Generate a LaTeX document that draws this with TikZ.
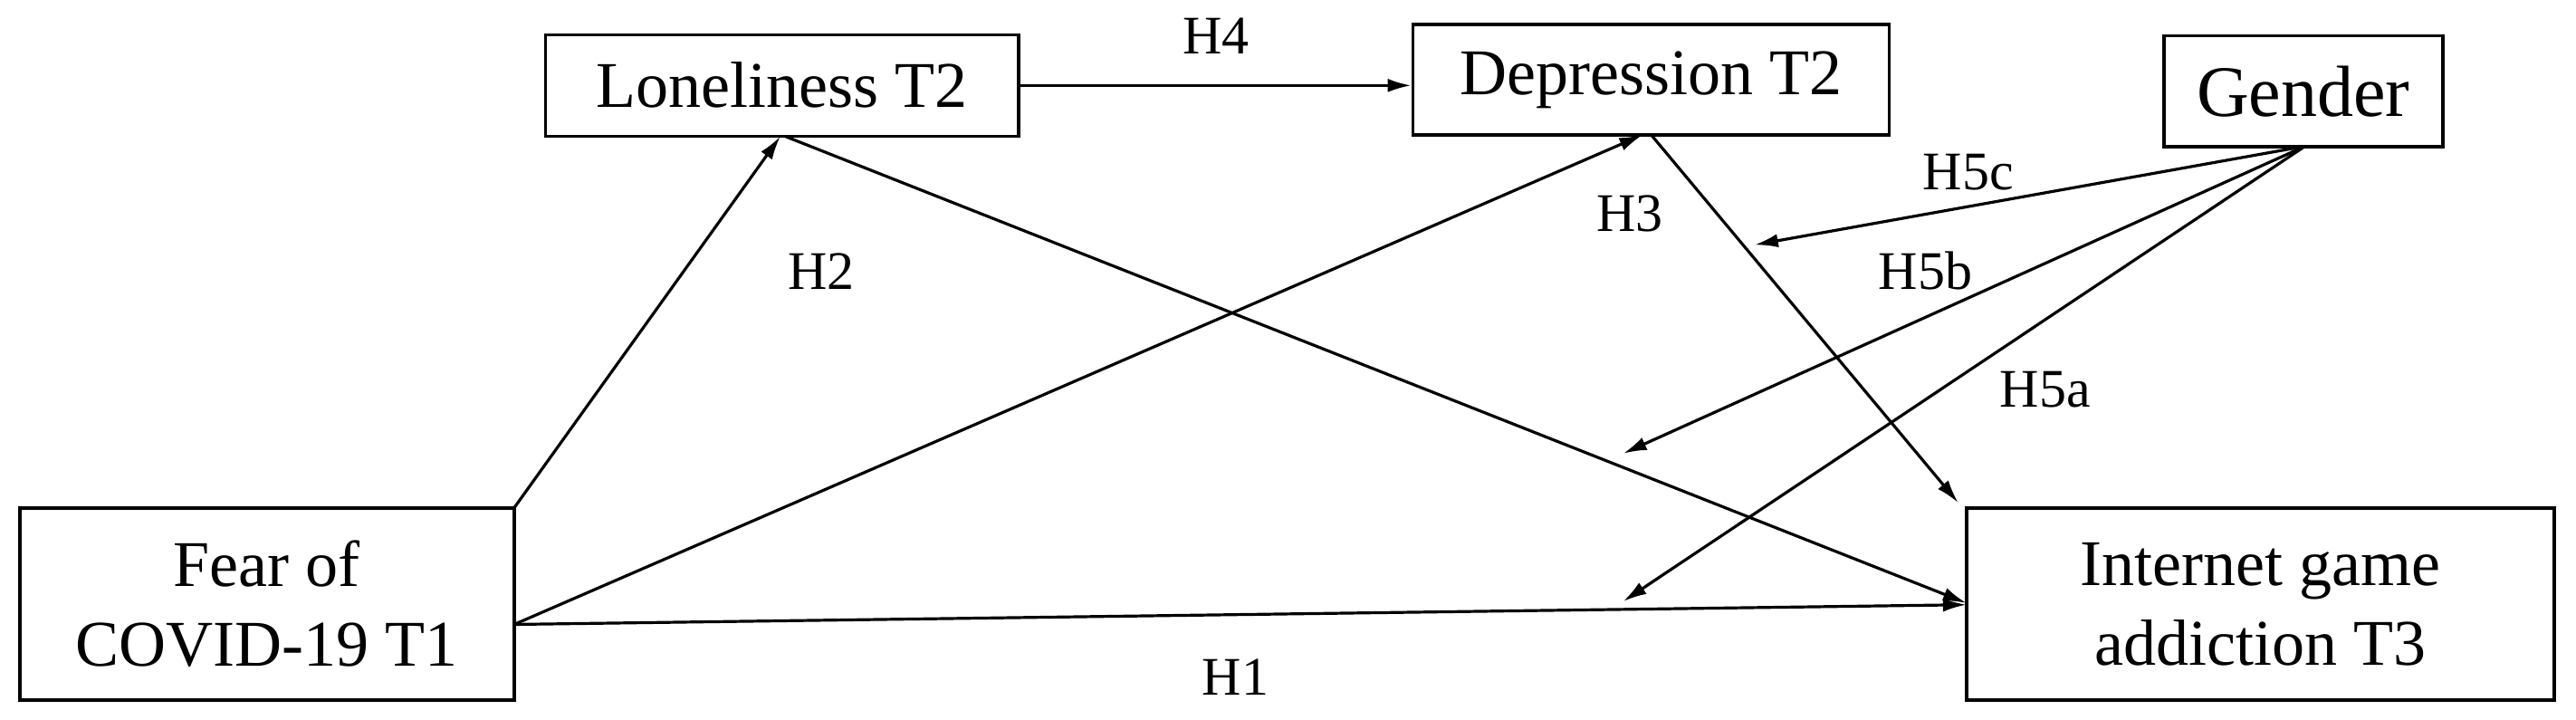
\documentclass[tikz,border=0pt]{standalone}
\usepackage{fontspec}
\setmainfont{Liberation Serif}
\usetikzlibrary{arrows.meta}
\begin{document}
\begin{tikzpicture}[x=1.814pt,y=-1.814pt,
  box/.style={draw,line width=3.6pt,inner sep=0pt,align=center},
  lbl/.style={font=\fontsize{60}{68}\selectfont},
  arr/.style={line width=3.2pt,-{Latex[length=26pt,width=15pt]}}]
\useasboundingbox (0,0) rectangle (1568,437.7);
\tikzset{every node/.append style={font=\fontsize{72}{88}\selectfont}}
\node[box,minimum width=546pt,minimum height=212pt] (fear) at (162.5,367.5) {Fear of\\COVID-19 T1};
\node[box,minimum width=522pt,minimum height=112pt] (lone) at (476,52) {Loneliness T2};
\node[box,minimum width=526pt,minimum height=122pt] (dep) at (1005,48.5) {Depression T2};
\node[box,minimum width=308pt,minimum height=122pt,font=\fontsize{80}{90}\selectfont] (gen) at (1402,55.5) {Gender};
\node[box,minimum width=649pt,minimum height=212pt] (iga) at (1376,367.5) {Internet game\\addiction T3};
\coordinate (fa) at (313,309);
\coordinate (fb) at (313,380);
\coordinate (c1) at (1068,149);
\coordinate (c2) at (988,276);
\coordinate (c3) at (988,366);
\draw[arr] (lone.east) -- (lone.east -| dep.west);
\draw[arr] (fa) -- (475,83);
\draw[arr] (fb) -- (1000,82);
\draw[arr] (fb) -- (1197,368);
\draw[arr] (478,83) -- (1197,367);
\draw[arr] (1005,82) -- (1192,306);
\draw[arr] (1403,89) -- (c1);
\draw[arr] (1403,89) -- (c2);
\draw[arr] (1403,89) -- (c3);
\node[lbl] (h4) at (740,22) {H4};
\node[lbl] (h2) at (500,165) {H2};
\node[lbl] (h3) at (992,130) {H3};
\node[lbl] (h5c) at (1198,105) {H5c};
\node[lbl] (h5b) at (1172,165) {H5b};
\node[lbl] (h5a) at (1245,237) {H5a};
\node[lbl] (h1) at (752,412) {H1};
\end{tikzpicture}
\end{document}
